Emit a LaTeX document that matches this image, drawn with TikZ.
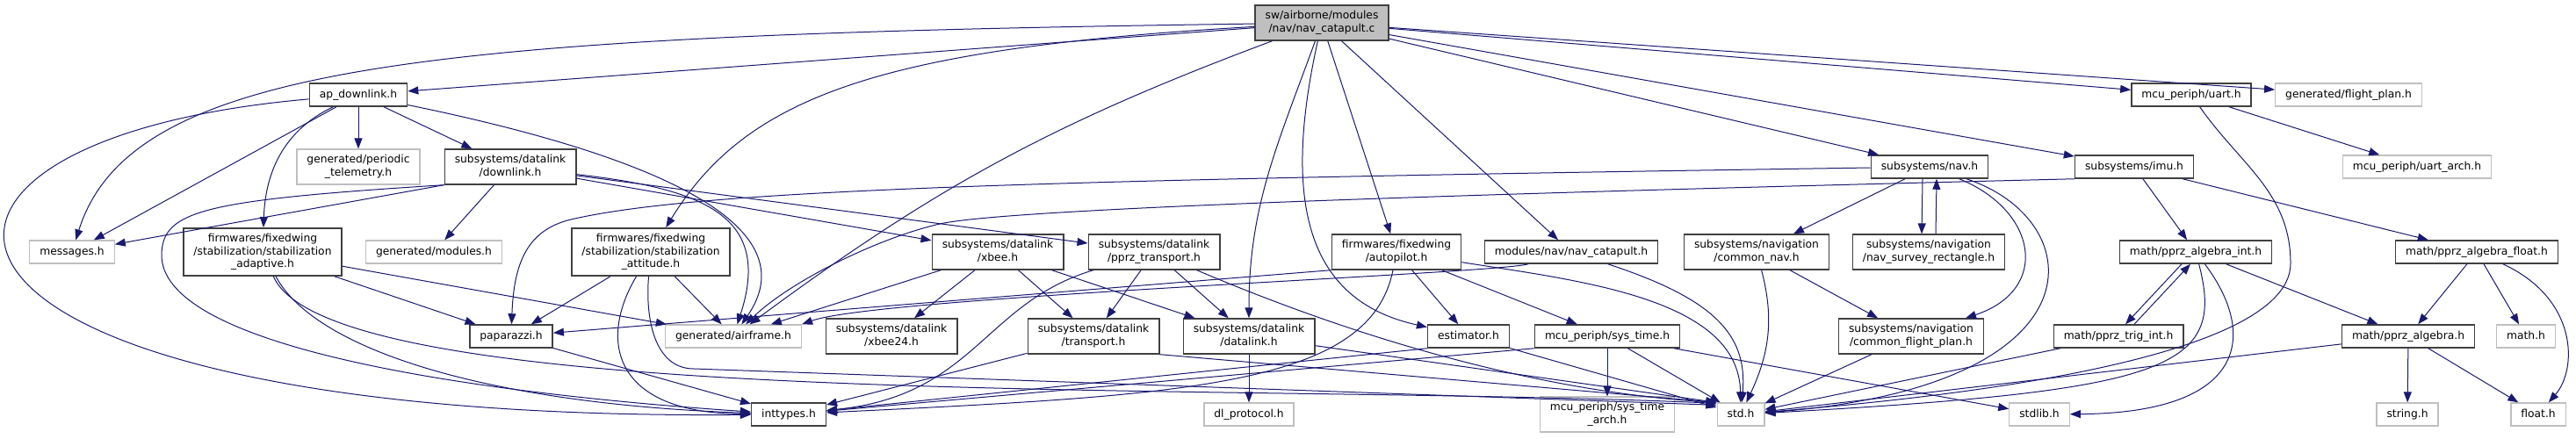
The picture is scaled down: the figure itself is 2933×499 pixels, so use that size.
\documentclass[tikz,border=0pt]{standalone}
\usepackage{fontspec}
\setmainfont{DejaVu Sans}
\usetikzlibrary{arrows.meta}
\definecolor{edgeblue}{RGB}{25,25,112}
\definecolor{boxgray}{RGB}{191,191,191}
\definecolor{boxline}{RGB}{64,64,64}

\begin{document}
\begin{tikzpicture}[x=1pt,y=1pt,
  incfile/.style={draw=boxline,line width=1.5pt,inner xsep=11.5pt,inner ysep=6.5pt,minimum height=26pt,text depth=3pt,align=center,font=\fontsize{12.3}{14.5}\selectfont},
  extfile/.style={incfile,draw=boxgray,line width=1.3pt},
  rootfile/.style={incfile,fill=boxgray},
  incl/.style={draw=edgeblue,line width=1pt,-{Triangle[length=12pt,width=9pt]}}]
\useasboundingbox (0,0) rectangle (2933,-499);

\node[rootfile] (root) at (1505,-26) {sw/airborne/modules\\/nav/nav\_catapult.c};
\node[incfile] (apdl) at (408,-108) {ap\_downlink.h};
\node[incfile] (uart) at (2495,-108) {mcu\_periph/uart.h};
\node[extfile] (fplan) at (2674,-108) {generated/flight\_plan.h};
\node[extfile] (ptel) at (408,-190) {generated/periodic\\\_telemetry.h};
\node[incfile] (dlink) at (581,-190) {subsystems/datalink\\/downlink.h};
\node[incfile] (nav) at (2197,-190) {subsystems/nav.h};
\node[incfile] (imu) at (2430,-190) {subsystems/imu.h};
\node[extfile] (uarch) at (2752,-190) {mcu\_periph/uart\_arch.h};
\node[extfile] (msg) at (82,-287) {messages.h};
\node[incfile] (stadapt) at (299,-287) {firmwares/fixedwing\\/stabilization/stabilization\\\_adaptive.h};
\node[extfile] (gmod) at (494,-287) {generated/modules.h};
\node[incfile] (statt) at (741,-287) {firmwares/fixedwing\\/stabilization/stabilization\\\_attitude.h};
\node[incfile] (xbee) at (1136,-287) {subsystems/datalink\\/xbee.h};
\node[incfile] (pprzt) at (1314,-287) {subsystems/datalink\\/pprz\_transport.h};
\node[incfile] (autop) at (1590,-287) {firmwares/fixedwing\\/autopilot.h};
\node[incfile] (ncath) at (1789,-287) {modules/nav/nav\_catapult.h};
\node[incfile] (cnav) at (2000,-287) {subsystems/navigation\\/common\_nav.h};
\node[incfile] (nsurv) at (2196,-287) {subsystems/navigation\\/nav\_survey\_rectangle.h};
\node[incfile] (painti) at (2500,-287) {math/pprz\_algebra\_int.h};
\node[incfile] (pfloat) at (2820,-287) {math/pprz\_algebra\_float.h};
\node[incfile] (pprz) at (582,-383) {paparazzi.h};
\node[extfile] (airframe) at (835,-383) {generated/airframe.h};
\node[incfile] (xbee24) at (1015,-383) {subsystems/datalink\\/xbee24.h};
\node[incfile] (transport) at (1245,-383) {subsystems/datalink\\/transport.h};
\node[incfile] (datalink) at (1422,-383) {subsystems/datalink\\/datalink.h};
\node[incfile] (estim) at (1672,-383) {estimator.h};
\node[incfile] (systime) at (1830,-383) {mcu\_periph/sys\_time.h};
\node[incfile] (cfp) at (2176,-383) {subsystems/navigation\\/common\_flight\_plan.h};
\node[incfile] (trig) at (2412,-383) {math/pprz\_trig\_int.h};
\node[incfile] (palg) at (2742,-383) {math/pprz\_algebra.h};
\node[extfile] (mathh) at (2876,-383) {math.h};
\node[incfile] (inttypes) at (898,-472) {inttypes.h};
\node[extfile] (dlproto) at (1422,-472) {dl\_protocol.h};
\node[extfile] (sysarch) at (1830,-472) {mcu\_periph/sys\_time\\\_arch.h};
\node[extfile] (std) at (1982,-472) {std.h};
\node[extfile] (stdlib) at (2322,-472) {stdlib.h};
\node[extfile] (stringh) at (2741,-472) {string.h};
\node[extfile] (floath) at (2890,-472) {float.h};

\draw[incl] (root) -- (apdl);
\draw[incl] (root) .. controls (500,-40) and (150,-70) .. (msg);
\draw[incl] (root) .. controls (1000,-55) and (850,-110) .. (statt);
\draw[incl] (root) to[bend right=8] (airframe);
\draw[incl] (root) to[out=250,in=90] (datalink);
\draw[incl] (root) .. controls (1455,-250) and (1500,-345) .. (estim);
\draw[incl] (root) -- (autop);
\draw[incl] (root) -- (ncath);
\draw[incl] (root) -- (nav);
\draw[incl] (root) -- (imu);
\draw[incl] (root) -- (uart);
\draw[incl] (root) -- (fplan);

\draw[incl] (apdl) -- (msg);
\draw[incl] (apdl) .. controls (-190,-160) and (-150,-480) .. (inttypes);
\draw[incl] (apdl) -- (ptel);
\draw[incl] (apdl) -- (dlink);
\draw[incl] (apdl) .. controls (320,-150) and (302,-200) .. (stadapt);
\draw[incl] (apdl) .. controls (760,-180) and (920,-260) .. (airframe);

\draw[incl] (dlink.south west) -- (msg);
\draw[incl] (dlink.south west) .. controls (230,-228) and (185,-240) .. (184,-290) .. controls (183,-390) and (500,-445) .. (inttypes);
\draw[incl] (dlink) -- (gmod);
\draw[incl] (dlink) .. controls (800,-215) and (880,-245) .. (airframe);
\draw[incl] (dlink) -- (pprzt);
\draw[incl] (dlink) -- (xbee);

\draw[incl] (stadapt) -- (pprz);
\draw[incl] (stadapt) -- (airframe);
\draw[incl] (stadapt) .. controls (380,-470) and (1400,-435) .. ([yshift=-1pt]std.north west);
\draw[incl] (stadapt) .. controls (360,-400) and (560,-460) .. (inttypes);

\draw[incl] (statt) -- (pprz);
\draw[incl] (statt) -- (airframe);
\draw[incl] (statt) .. controls (680,-390) and (700,-470) .. (inttypes);
\draw[incl] (statt) to[out=-95,in=180] (790,-420) -- ([yshift=-3pt]std.north west);

\draw[incl] (pprz) -- (inttypes);

\draw[incl] (xbee) -- (airframe);
\draw[incl] (xbee) -- (xbee24);
\draw[incl] (xbee) -- (transport);
\draw[incl] (xbee) -- (datalink);

\draw[incl] (pprzt) -- (transport);
\draw[incl] (pprzt) -- (datalink);
\draw[incl] (pprzt) .. controls (1580,-400) and (1780,-448) .. (std.north west);
\draw[incl] (pprzt) .. controls (1120,-345) and (1110,-450) .. (inttypes);

\draw[incl] (transport) -- (inttypes);
\draw[incl] (transport.south east) -- (std.north west);

\draw[incl] (datalink) -- (dlproto);
\draw[incl] (datalink) -- (std.north west);

\draw[incl] (autop.south west) -- (pprz);
\draw[incl] (autop) -- (estim);
\draw[incl] (autop) .. controls (1560,-440) and (1350,-450) .. (inttypes);
\draw[incl] (autop) .. controls (1800,-320) and (1980,-340) .. (std);
\draw[incl] (autop) -- (systime);

\draw[incl] (estim.south west) -- (inttypes);
\draw[incl] (estim) -- (std);

\draw[incl] (ncath) .. controls (1700,-312) and (1000,-338) .. (airframe.north east);
\draw[incl] (ncath) .. controls (1950,-340) and (1990,-380) .. (std);

\draw[incl] (systime) -- (sysarch);
\draw[incl] (systime) -- (std);
\draw[incl] (systime) -- (stdlib);
\draw[incl] (systime.south west) -- (inttypes);

\draw[incl] (nav) .. controls (1200,-205) and (800,-215) .. (650,-250) .. controls (600,-262) and (585,-300) .. (pprz);
\draw[incl] (nav) -- (cnav);
\draw[incl] ([xshift=-8pt]nav.south) -- ([xshift=-8pt]nsurv.north);
\draw[incl] ([xshift=8pt]nsurv.north) -- ([xshift=8pt]nav.south);
\draw[incl] (nav) .. controls (2320,-240) and (2335,-330) .. (cfp);
\draw[incl] (nav) .. controls (2380,-250) and (2400,-440) .. (std);

\draw[incl] (cnav) to[out=-75,in=65] (std);
\draw[incl] (cnav) -- (cfp);
\draw[incl] (cfp) -- (std);

\draw[incl] (imu.south west) .. controls (1700,-220) and (1150,-237) .. (1070,-255) .. controls (1000,-271) and (900,-320) .. (airframe);
\draw[incl] (imu) -- (painti);
\draw[incl] (imu) -- (pfloat);

\draw[incl] (uart) -- (uarch);
\draw[incl] (uart) to[out=-55,in=90] (2608,-300) to[out=-90,in=5,looseness=0.5] (std);

\draw[incl] ([xshift=-16pt]painti.south) -- ([xshift=8pt]trig.north);
\draw[incl] ([xshift=18pt]trig.north) -- ([xshift=-6pt]painti.south);
\draw[incl] (painti) .. controls (2535,-420) and (2470,-445) .. (std);
\draw[incl] (painti) .. controls (2570,-380) and (2560,-470) .. (stdlib);
\draw[incl] (painti) -- (palg);
\draw[incl] (trig) -- (std);

\draw[incl] (pfloat) -- (palg);
\draw[incl] (pfloat) -- (mathh);
\draw[incl] (pfloat) .. controls (2935,-340) and (2935,-420) .. (floath);

\draw[incl] (palg) -- (std);
\draw[incl] (palg) -- (stringh);
\draw[incl] (palg) -- (floath);
\end{tikzpicture}
\end{document}
